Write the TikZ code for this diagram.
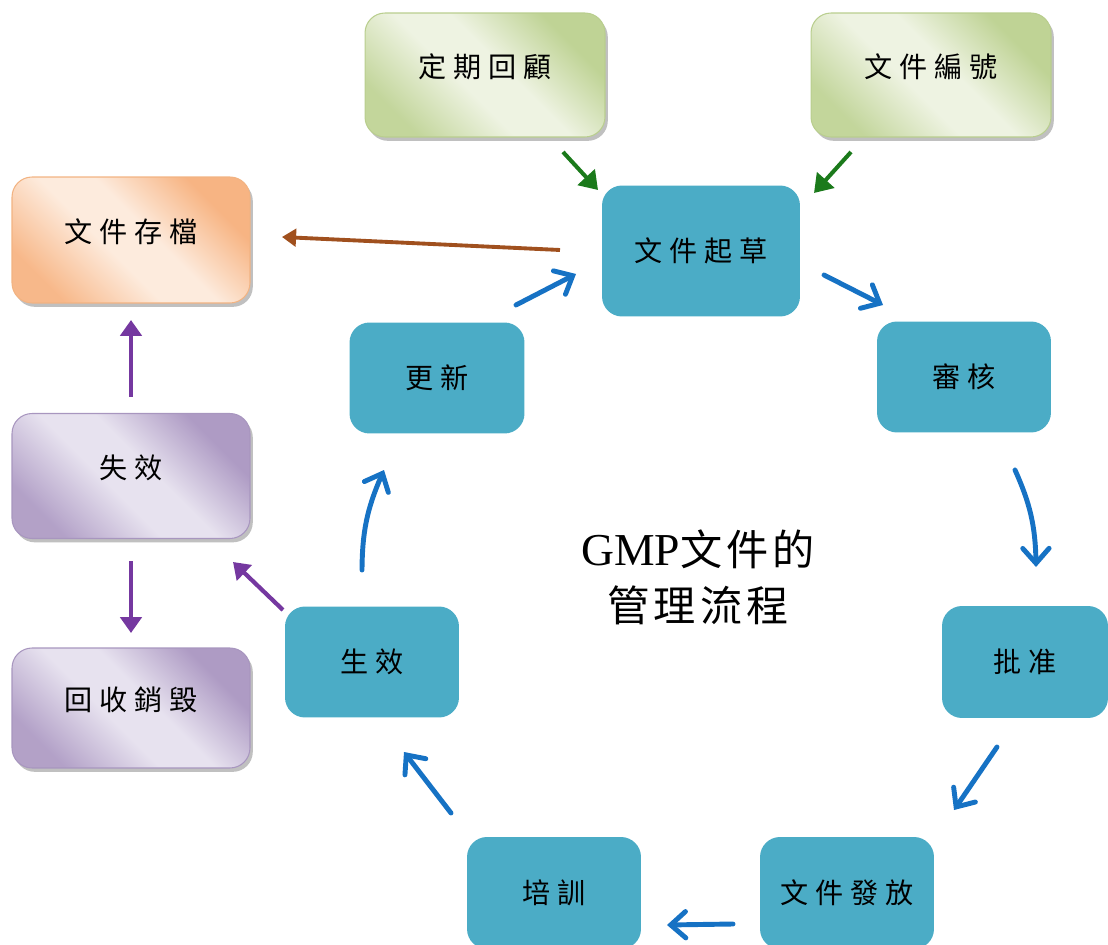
\documentclass[tikz,border=0pt]{standalone}
\usepackage{fontspec}
\setmainfont{Liberation Serif}
\newfontfamily\cjk[LetterSpace=25]{Noto Sans CJK TC}
\newfontfamily\cjkc[LetterSpace=10]{Noto Sans CJK TC}
\usetikzlibrary{arrows.meta,shadows,bending}
\definecolor{tealbox}{HTML}{4BACC6}
\definecolor{bluearr}{HTML}{1672C4}
\definecolor{greenarr}{HTML}{1B7A1B}
\definecolor{brownarr}{HTML}{A0501E}
\definecolor{purplearr}{HTML}{7538A0}
\definecolor{gdark}{HTML}{BFD395}
\definecolor{glight}{HTML}{EEF3E2}
\definecolor{gline}{HTML}{B9CE8E}
\definecolor{odark}{HTML}{F7B483}
\definecolor{olight}{HTML}{FDEBDD}
\definecolor{oline}{HTML}{F2B382}
\definecolor{pdark}{HTML}{AE9BC4}
\definecolor{plight}{HTML}{E7E2EF}
\definecolor{pline}{HTML}{A896BF}
\pgfdeclareverticalshading{gband}{100bp}{color(0bp)=(gdark); color(27bp)=(gdark); color(45bp)=(glight); color(56bp)=(glight); color(75bp)=(gdark!92!glight); color(100bp)=(gdark!92!glight)}
\pgfdeclareverticalshading{oband}{100bp}{color(0bp)=(odark); color(27bp)=(odark); color(45bp)=(olight); color(56bp)=(olight); color(75bp)=(odark!92!olight); color(100bp)=(odark!92!olight)}
\pgfdeclareverticalshading{pband}{100bp}{color(0bp)=(pdark); color(27bp)=(pdark); color(45bp)=(plight); color(56bp)=(plight); color(75bp)=(pdark!92!plight); color(100bp)=(pdark!92!plight)}
\tikzset{
  tealnode/.style={fill=tealbox, rounded corners=0.4cm, inner sep=0pt,
    font=\cjk\fontsize{16}{20}\selectfont, text=black},
  gradnode/.style={rounded corners=0.4cm, inner sep=0pt, line width=0.6pt,
    font=\cjk\fontsize{16}{20}\selectfont, text=black,
    drop shadow={shadow xshift=1.6pt, shadow yshift=-2.2pt, fill=black!55, opacity=0.45}},
  greenbox/.style={gradnode, draw=gline, shading=gband, shading angle=135},
  orangebox/.style={gradnode, draw=oline, shading=oband, shading angle=135},
  purplebox/.style={gradnode, draw=pline, shading=pband, shading angle=135},
  bluearrow/.style={draw=bluearr, line width=2.8pt, line cap=round,
    -{Straight Barb[length=8.5pt,width=15pt,line cap=round]}},
  greenarrow/.style={draw=greenarr, line width=2.3pt, -{Triangle[length=10pt,width=13pt]}},
  brownarrow/.style={draw=brownarr, line width=2.2pt, -{Triangle[length=8pt,width=10pt]}},
  purplearrow/.style={draw=purplearr, line width=2.4pt, -{Triangle[length=9pt,width=12pt]}}
}
\newcommand{\upt}[1]{\raisebox{11pt}{#1}}
\begin{document}
\begin{tikzpicture}[x=0.02cm,y=-0.02cm]
\useasboundingbox (0,0) rectangle (1108,945);
% gradient boxes
\node[greenbox, minimum width=4.8cm, minimum height=2.48cm] (review) at (485,75) {\upt{定期回顧}};
\node[greenbox, minimum width=4.8cm, minimum height=2.48cm] (number) at (931,75) {\upt{文件編號}};
\node[orangebox, minimum width=4.76cm, minimum height=2.52cm] (archive) at (131,240) {\upt{文件存檔}};
\node[purplebox, minimum width=4.76cm, minimum height=2.5cm] (invalid) at (131,476) {\upt{失效}};
\node[purplebox, minimum width=4.76cm, minimum height=2.4cm] (destroy) at (131,708) {\upt{回收銷毀}};
% teal boxes
\node[tealnode, minimum width=3.96cm, minimum height=2.62cm] (draft) at (701,251) {文件起草};
\node[tealnode, minimum width=3.48cm, minimum height=2.22cm] (audit) at (964,377) {審核};
\node[tealnode, minimum width=3.32cm, minimum height=2.24cm] (approve) at (1025,662) {批准};
\node[tealnode, minimum width=3.48cm, minimum height=2.24cm] (issue) at (847,893) {文件發放};
\node[tealnode, minimum width=3.48cm, minimum height=2.24cm] (train) at (554,893) {培訓};
\node[tealnode, minimum width=3.48cm, minimum height=2.22cm] (effect) at (372,662) {生效};
\node[tealnode, minimum width=3.5cm, minimum height=2.22cm] (update) at (437,378) {更新};
% center title
\node[align=center, font=\fontsize{24}{32}\selectfont] (title) at (698,577)
  {{\fontsize{26}{32}\selectfont GMP}{\cjkc 文件的}\\{\cjkc 管理流程}};
% arrow end coordinates
\coordinate (g1s) at (563,152); \coordinate (g1e) at (598,190);
\coordinate (g2s) at (851,152); \coordinate (g2e) at (814,193);
\coordinate (b1s) at (560,250); \coordinate (b1e) at (282,237);
\coordinate (u1s) at (516,305); \coordinate (u1e) at (576,274);
\coordinate (u2s) at (824,275); \coordinate (u2e) at (883,305);
\coordinate (u3s) at (1015,470); \coordinate (u3e) at (1036,567);
\coordinate (u4s) at (997,747); \coordinate (u4e) at (954,810);
\coordinate (u5s) at (733,924); \coordinate (u5e) at (667,925);
\coordinate (u6s) at (451,813); \coordinate (u6e) at (404,752);
\coordinate (u7s) at (362,570); \coordinate (u7e) at (384,470);
\coordinate (p1s) at (283,610); \coordinate (p1e) at (233,562);
\coordinate (p2s) at (131,397); \coordinate (p2e) at (131,320);
\coordinate (p3s) at (131,561); \coordinate (p3e) at (131,633);
% arrows
\draw[greenarrow] (g1s) -- (g1e);
\draw[greenarrow] (g2s) -- (g2e);
\draw[brownarrow] (b1s) -- (b1e);
\draw[bluearrow] (u1s) -- (u1e);
\draw[bluearrow] (u2s) -- (u2e);
\draw[bluearrow] (u3s) to[bend left=12] (u3e);
\draw[bluearrow] (u4s) -- (u4e);
\draw[bluearrow] (u5s) -- (u5e);
\draw[bluearrow] (u6s) -- (u6e);
\draw[bluearrow] (u7s) to[bend left=12] (u7e);
\draw[purplearrow] (p1s) -- (p1e);
\draw[purplearrow] (p2s) -- (p2e);
\draw[purplearrow] (p3s) -- (p3e);
\end{tikzpicture}
\end{document}
